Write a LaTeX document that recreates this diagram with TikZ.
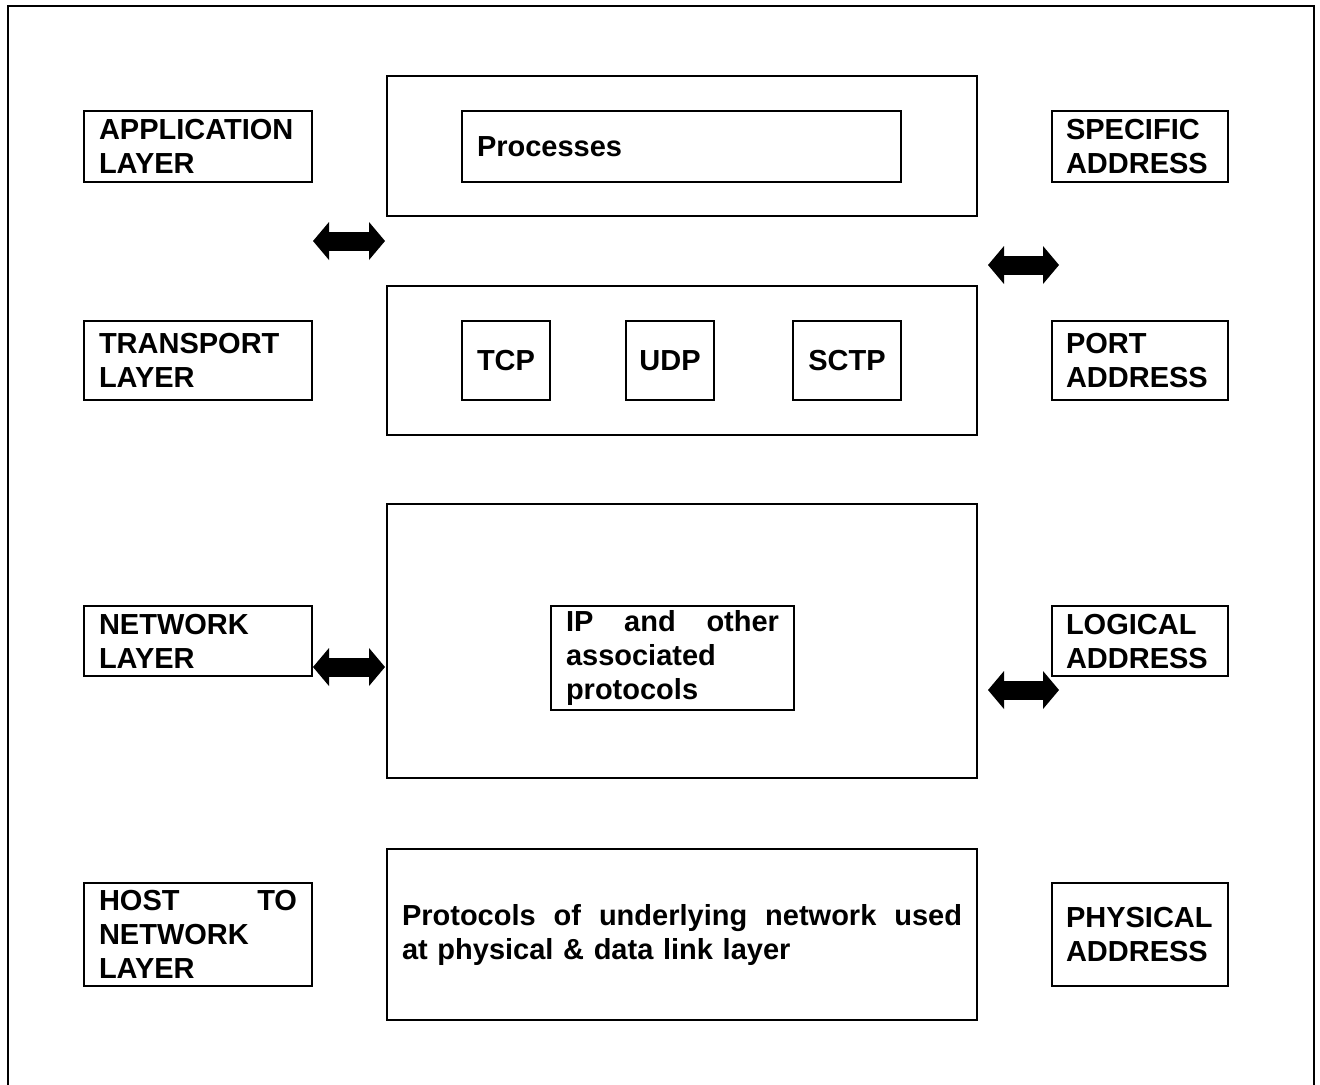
\documentclass[tikz,border=0pt]{standalone}
\usepackage{fontspec}
\setmainfont{Liberation Sans}
\usetikzlibrary{positioning, arrows.meta}
\tikzset{
Box/.style={
	draw, line width=1pt,
	inner xsep=7.5pt, inner ysep=0pt,
	font=\fontsize{14.5}{17}\selectfont\bfseries
},
Layer/.style={
	Box,
	text width=99pt, align=left
},
Group/.style={
	Box,
	text width=280pt, align=left
},
Proto/.style={
	Box,
	minimum height=39.5pt, inner xsep=0pt, align=center
},
Addr/.style={
	Box,
	inner xsep=7pt, text width=74pt, align=left
},
Frame/.style={
	draw=black, line width=1pt
},
BigArrow/.style={
	line width=9.5pt,
	{Triangle[length=8pt, width=19pt, line width=0pt]}-{Triangle[length=8pt, width=19pt, line width=0pt]}
}
}

\begin{document}
\begin{tikzpicture}[x=0.5pt, y=-0.5pt]
	\useasboundingbox (0,0) rectangle (1320,1084);
	\draw[Frame] (8,1095) -- (8,6) -- (1314,6) -- (1314,1095);

	% layers
	\node[Layer, minimum height=35.5pt] (app) at (198,146.5) {APPLICATION\\LAYER};
	\node[Layer, minimum height=39.5pt] (trans) at (198,360.5) {TRANSPORT\\LAYER};
	\node[Layer, minimum height=35pt] (net) at (198,641) {NETWORK\\LAYER};
	\node[Layer, minimum height=51.5pt] (host) at (198,934.5) {HOST\hfill TO\\NETWORK\\LAYER};

	% protocols
	\node[Group, minimum height=70pt] (appgrp) at (682,146) {};
	\node[Box, text width=204.5pt, align=left, minimum height=35.5pt] (proc) at (681.5,146.5) {Processes};

	\node[Group, minimum height=74.5pt] (transgrp) at (682,360.5) {};
	\node[Proto, minimum width=44pt] (tcp) at (506,360.5) {TCP};
	\node[Proto, minimum width=44pt] (udp) at (670,360.5) {UDP};
	\node[Proto, minimum width=54pt] (sctp) at (847,360.5) {SCTP};

	\node[Group, minimum height=137pt] (netgrp) at (682,641) {};
	\node[Box, text width=106.5pt, align=left, minimum height=52pt] (ip) at (672.5,658) {IP\hfill and\hfill other\\associated\\protocols};

	\node[Group, minimum height=85.5pt] (linkgrp) at (682,934.5) {Protocols\hfill of\hfill underlying\hfill network\hfill used\\at physical \& data link layer};

	% addresses
	\node[Addr, minimum height=35.5pt] (spec) at (1140,146.5) {SPECIFIC\\ADDRESS};
	\node[Addr, minimum height=39.5pt] (port) at (1140,360.5) {PORT\\ADDRESS};
	\node[Addr, minimum height=35pt] (logic) at (1140,641) {LOGICAL\\ADDRESS};
	\node[Addr, minimum height=51.5pt] (phys) at (1140,934.5) {PHYSICAL\\ADDRESS};

	% arrows
	\coordinate (a1w) at (313,241);
	\coordinate (a1e) at (385,241);
	\coordinate (a2w) at (988,265);
	\coordinate (a2e) at (1059,265);
	\coordinate (a3w) at (313,667);
	\coordinate (a3e) at (385,667);
	\coordinate (a4w) at (988,690);
	\coordinate (a4e) at (1059,690);
	\draw[BigArrow] (a1w) -- (a1e);
	\draw[BigArrow] (a2w) -- (a2e);
	\draw[BigArrow] (a3w) -- (a3e);
	\draw[BigArrow] (a4w) -- (a4e);
\end{tikzpicture}
\end{document}
